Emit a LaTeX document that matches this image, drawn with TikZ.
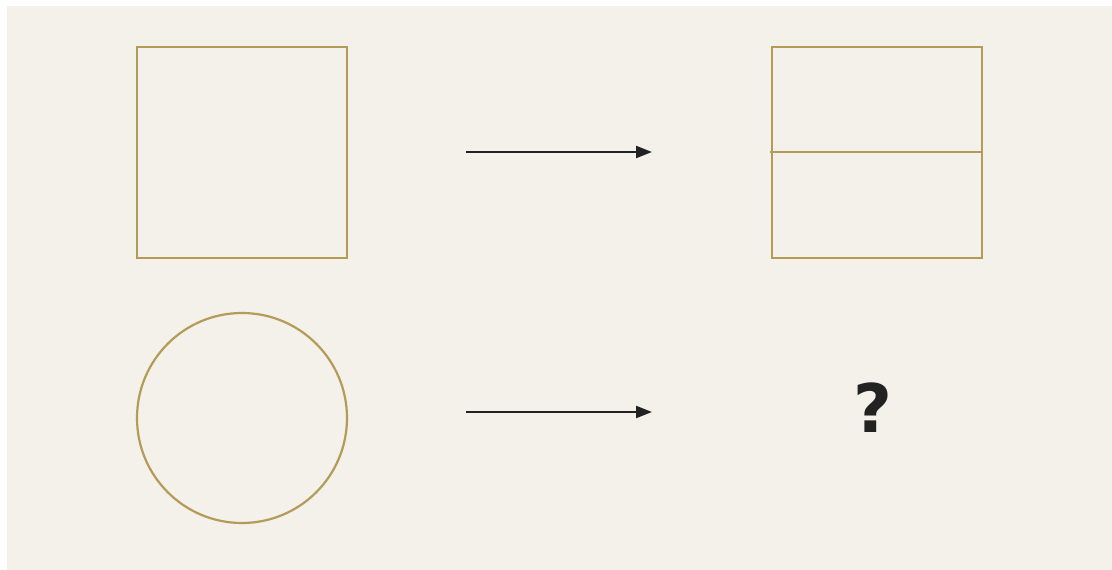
\documentclass[tikz,border=0pt]{standalone}
\usepackage{fontspec}
\setmainfont{DejaVu Sans}
\usetikzlibrary{arrows.meta}
\definecolor{bg}{HTML}{F4F0EA}
\definecolor{gold}{HTML}{B49C58}
\definecolor{ink}{HTML}{222222}
\begin{document}
\begin{tikzpicture}[x=1pt,y=-1pt,
  shapeline/.style={draw=gold,line width=2.2pt},
  arr/.style={draw=ink,line width=2.2pt,-{Triangle[length=16pt,width=12pt]}}]
\useasboundingbox (0,0) rectangle (1112,570);
\fill[white] (0,0) rectangle (1112,570);
\fill[bg] (7,6) rectangle (1112,570);
\draw[shapeline] (137,47) rectangle (347,258);
\draw[shapeline] (772,47) rectangle (982,258);
\coordinate (ml) at (770,152);
\coordinate (mr) at (982,152);
\draw[shapeline] (ml) -- (mr);
\node[shapeline,circle,minimum size=210pt,inner sep=0pt] (c) at (242,418) {};
\coordinate (a1s) at (466,152);
\coordinate (a1e) at (652,152);
\coordinate (a2s) at (466,412);
\coordinate (a2e) at (652,412);
\draw[arr] (a1s) -- (a1e);
\draw[arr] (a2s) -- (a2e);
\node[text=ink,font=\bfseries\fontsize{67}{67}\selectfont,inner sep=0pt] (q) at (873,408) {?};
\end{tikzpicture}
\end{document}
